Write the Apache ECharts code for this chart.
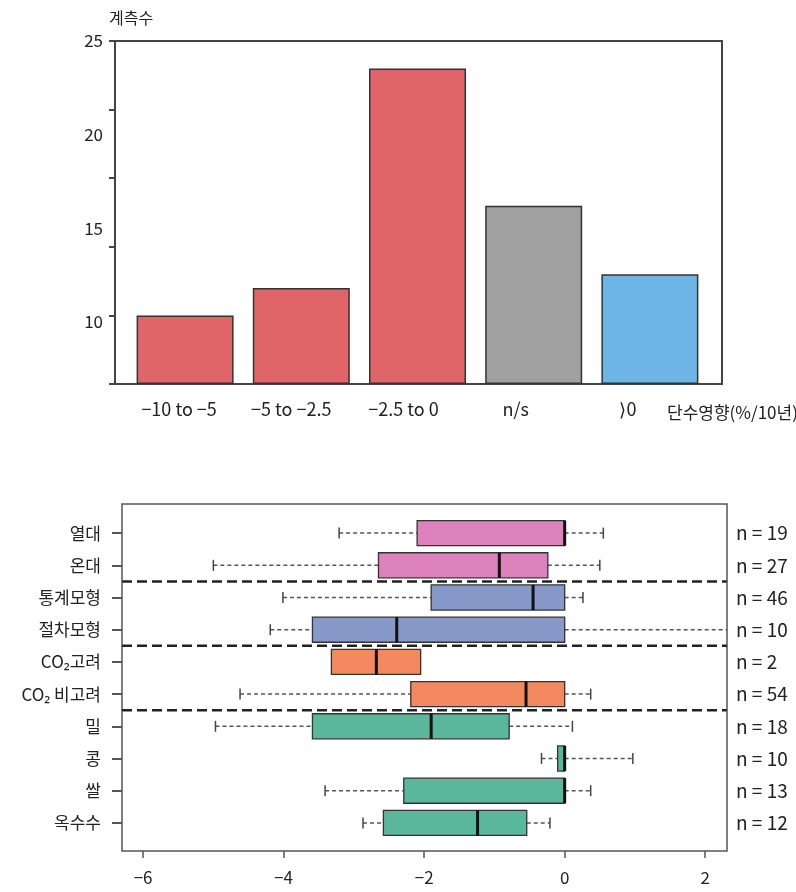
<!DOCTYPE html>
<html>
<head>
<meta charset="utf-8">
<script src="https://cdn.jsdelivr.net/npm/echarts@6/dist/echarts.min.js"></script>
<style>
  html, body { margin: 0; padding: 0; background: #fff; }
  #chart { width: 796px; height: 892px; }
</style>
</head>
<body>
<div id="chart"></div>
<script>
// 상단: 단수영향 구간별 계측수
const barCats = ['−10 to −5', '−5 to −2.5', '−2.5 to 0', 'n/s', '⟩0'];
const barCounts = [5, 7, 23, 13, 8];
const countTicks = [10, 15, 20, 25];

// 하단: 그룹별 단수영향 분포 (%/10년)
const rows = ['열대', '온대', '통계모형', '절차모형', 'CO₂고려', 'CO₂ 비고려', '밀', '콩', '쌀', '옥수수'];
const low    = [-3.21, -5.00, -4.01, -4.19, -3.32, -4.62, -4.97, -0.33, -3.41, -2.87];
const q1     = [-2.10, -2.65, -1.90, -3.59, -3.32, -2.19, -3.59, -0.10, -2.29, -2.58];
const median = [ 0.00, -0.93, -0.45, -2.39, -2.68, -0.55, -1.90,  0.00,  0.00, -1.24];
const q3     = [ 0.00, -0.24,  0.00,  0.00, -2.05,  0.00, -0.79,  0.00,  0.00, -0.54];
const high   = [ 0.55,  0.50,  0.26,  2.60, -2.05,  0.37,  0.11,  0.97,  0.37, -0.21];
const nObs   = [19, 27, 46, 10, 2, 54, 18, 10, 13, 12];
const separators = [2, 4, 6]; // 구분선이 위에 오는 행
const effectTicks = [-6, -4, -2, 0, 2];

const FONT = '"Noto Sans CJK KR", "Noto Sans", sans-serif';
const barColors = ['#e06568', '#e06568', '#e06568', '#a0a0a0', '#6cb5e6'];
const boxColors = ['#de82bd', '#de82bd', '#8799c9', '#8799c9', '#f4895f', '#f4895f',
  '#5ab79b', '#5ab79b', '#5ab79b', '#5ab79b'];

const minus = (v) => (v < 0 ? '−' + Math.abs(v) : String(v));

const boxData = rows.map((_, i) => [i, low[i], q1[i], median[i], q3[i], high[i]]);

function renderBox(params, api) {
  const yi = api.value(0);
  const band = api.size([0, 1])[1];
  const h = band * 0.78;
  const cy = api.coord([0, yi])[1];
  const px = (d) => api.coord([api.value(d), yi])[0];
  const xLow = px(1), xQ1 = px(2), xMed = px(3), xQ3 = px(4), xHigh = px(5);
  const whisk = { stroke: '#555', lineWidth: 1.5, lineDash: [4, 3] };
  const capStyle = { stroke: '#444', lineWidth: 1.5 };
  const children = [];
  if (xQ1 - xLow > 0.5) {
    children.push({ type: 'line', shape: { x1: xLow, y1: cy, x2: xQ1, y2: cy }, style: whisk });
    children.push({ type: 'line', shape: { x1: xLow, y1: cy - 5.5, x2: xLow, y2: cy + 5.5 }, style: capStyle });
  }
  if (xHigh - xQ3 > 0.5) {
    children.push({ type: 'line', shape: { x1: xQ3, y1: cy, x2: xHigh, y2: cy }, style: whisk });
    children.push({ type: 'line', shape: { x1: xHigh, y1: cy - 5.5, x2: xHigh, y2: cy + 5.5 }, style: capStyle });
  }
  children.push({
    type: 'rect',
    shape: { x: xQ1, y: cy - h / 2, width: Math.max(xQ3 - xQ1, 1), height: h },
    style: { fill: boxColors[params.dataIndex], stroke: '#333', lineWidth: 1.3 }
  });
  children.push({
    type: 'line',
    shape: { x1: xMed, y1: cy - h / 2, x2: xMed, y2: cy + h / 2 },
    style: { stroke: '#111', lineWidth: 3 }
  });
  return { type: 'group', children };
}

function renderSeparator(params, api) {
  const idx = api.value(0);
  const top = api.coord([0, idx])[1] - api.size([0, 1])[1] / 2;
  const cs = params.coordSys;
  const shape = { x1: cs.x, y1: top, x2: cs.x + cs.width, y2: top };
  return {
    type: 'group',
    children: [
      { type: 'line', shape, style: { stroke: '#fff', lineWidth: 2.5 } },
      { type: 'line', shape, style: { stroke: '#222', lineWidth: 2.5, lineDash: [10, 5] } }
    ]
  };
}

const chart = echarts.init(document.getElementById('chart'), null, { renderer: 'canvas' });

chart.setOption({
  animation: false,
  textStyle: { fontFamily: FONT, color: '#222' },
  title: [
    { text: '계측수', left: 104, top: 5, textStyle: { fontSize: 16, fontWeight: 'normal', color: '#222', fontFamily: FONT } },
    { text: '단수영향(%/10년)', left: 662, top: 399, textStyle: { fontSize: 17, fontWeight: 'normal', color: '#222', fontFamily: FONT } }
  ],
  grid: [
    // 0: 상단 프레임
    { left: 115, right: 74, top: 41, height: 343, show: true, borderColor: '#444', borderWidth: 2, backgroundColor: 'transparent' },
    // 1: 상단 막대
    { left: 127, width: 581, top: 41, height: 343 },
    // 2: 하단 프레임
    { left: 122, right: 69, top: 504, height: 347, show: true, borderColor: '#555', borderWidth: 1.5, backgroundColor: 'transparent' },
    // 3: 하단 상자
    { left: 122, right: 69, top: 517, height: 322 },
    // 4: 상단 구간 라벨
    { left: 123, width: 561, top: 41, height: 343 }
  ],
  xAxis: [
    { gridIndex: 0, type: 'value', min: 0, max: 1, show: false },
    { gridIndex: 1, type: 'category', data: barCats, show: false },
    {
      gridIndex: 2, type: 'value', min: -6.3, max: 2.31,
      axisLine: { show: false },
      splitLine: { show: false },
      axisTick: { show: true, length: 7, lineStyle: { color: '#555', width: 1.5 }, customValues: effectTicks },
      axisLabel: { fontSize: 17, color: '#222', margin: 18, customValues: effectTicks, formatter: minus }
    },
    { gridIndex: 3, type: 'value', min: -6.3, max: 2.31, show: false },
    {
      gridIndex: 4, type: 'category', data: barCats,
      axisLine: { show: false }, axisTick: { show: false },
      axisLabel: { fontSize: 18, color: '#222', margin: 16, interval: 0 }
    }
  ],
  yAxis: [
    {
      gridIndex: 0, type: 'value', min: 0, max: 25, interval: 5,
      axisLine: { show: true, onZero: false, lineStyle: { color: '#444', width: 2 } },
      axisTick: { show: true, length: 6, lineStyle: { color: '#444', width: 2 } },
      axisLabel: { show: false }, splitLine: { show: false }
    },
    {
      gridIndex: 0, type: 'value', min: 6.69, max: 25, position: 'left',
      axisLine: { show: false, onZero: false }, axisTick: { show: false }, splitLine: { show: false },
      axisLabel: { fontSize: 17, color: '#222', margin: 12, customValues: countTicks }
    },
    { gridIndex: 1, type: 'value', min: 0, max: 25, show: false },
    { gridIndex: 2, type: 'value', min: 0, max: 1, show: false },
    {
      gridIndex: 3, type: 'category', data: rows, inverse: true,
      axisLine: { show: false, onZero: false },
      axisTick: { show: true, alignWithLabel: true, length: 10, lineStyle: { color: '#555', width: 2 } },
      axisLabel: { fontSize: 17, color: '#222', margin: 21 },
      splitLine: { show: false }
    },
    {
      gridIndex: 3, type: 'category', data: rows, inverse: true, position: 'right',
      axisLine: { show: false, onZero: false }, axisTick: { show: false },
      axisLabel: { fontSize: 19, color: '#222', margin: 9, formatter: (v, i) => 'n = ' + nObs[i] }
    },
    { gridIndex: 4, type: 'value', min: 0, max: 1, show: false }
  ],
  series: [
    {
      type: 'bar', xAxisIndex: 1, yAxisIndex: 2, data: barCounts,
      barWidth: 97,
      itemStyle: { color: (p) => barColors[p.dataIndex], borderColor: '#333', borderWidth: 1.5 }
    },
    {
      type: 'custom', xAxisIndex: 3, yAxisIndex: 4, clip: true,
      renderItem: renderBox,
      encode: { y: 0, x: [1, 2, 3, 4, 5] },
      data: boxData, z: 2
    },
    {
      type: 'custom', xAxisIndex: 3, yAxisIndex: 4, clip: false,
      renderItem: renderSeparator,
      encode: { y: 0 },
      data: separators.map((s) => [s]), z: 3
    }
  ]
});
</script>
</body>
</html>
